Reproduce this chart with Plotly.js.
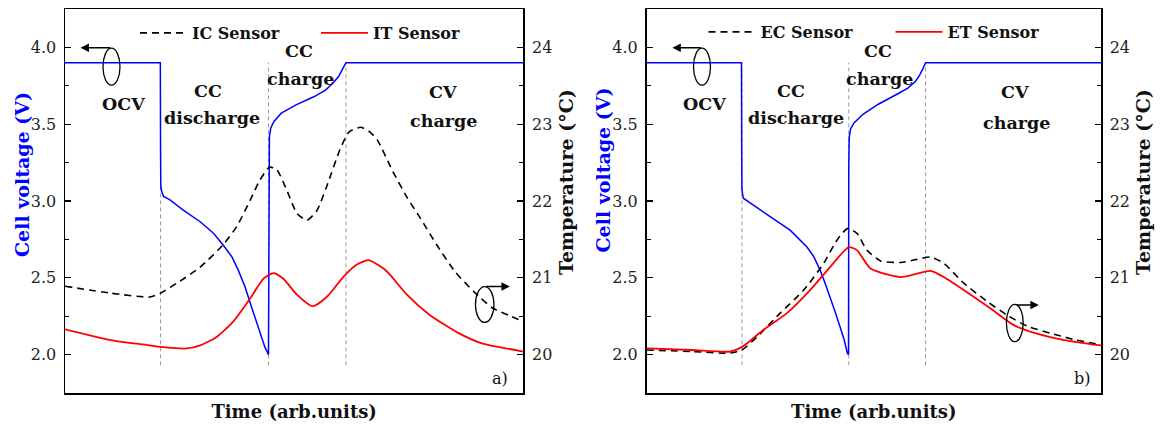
<!DOCTYPE html>
<html><head><meta charset="utf-8">
<script src="https://cdn.plot.ly/plotly-3.0.1.min.js"></script>
<style>html,body{margin:0;padding:0;background:#fff}#chart{width:1164px;height:430px}</style>
</head><body><div id="chart"></div>
<script>
// ---------- data (a) ----------
const timeVoltA = [0, 20.8, 20.85, 20.9, 21.1, 21.5, 22.9, 25.8, 29.5, 32.4, 34.5, 36.4, 37.8, 39.3, 40.7, 42.2, 43.6, 44.4, 44.45, 44.6, 44.9, 45.6, 47.2, 50.4, 54.4, 56.9, 58.5, 59.7, 60.5, 61.3, 100];
const voltA     = [3.9, 3.9, 3.33, 3.1, 3.061, 3.03, 3.007, 2.941, 2.865, 2.79, 2.713, 2.637, 2.55, 2.44, 2.31, 2.18, 2.05, 2.0, 3.2, 3.42, 3.475, 3.518, 3.572, 3.626, 3.68, 3.724, 3.768, 3.81, 3.855, 3.9, 3.9];
const timeIC = [0, 10.0, 18.5, 20.8, 24.4, 29.5, 34.5, 37.5, 40.4, 42.5, 44.6, 46.2, 48.4, 50.6, 52.8, 55.0, 57.1, 60.0, 62.0, 64.5, 66.5, 68.2, 71.4, 74.6, 77.5, 81.1, 85.1, 89.2, 93.2, 97.3, 100];
const tempIC = [20.89, 20.80, 20.75, 20.80, 20.93, 21.14, 21.43, 21.67, 22.01, 22.27, 22.44, 22.41, 22.14, 21.84, 21.75, 21.88, 22.19, 22.67, 22.90, 22.96, 22.90, 22.79, 22.40, 22.05, 21.78, 21.43, 21.08, 20.82, 20.61, 20.50, 20.43];
const timeIT = [0, 10.0, 18.5, 20.9, 26.6, 29.5, 33.1, 36.7, 40.4, 43.3, 45.5, 47.6, 50.6, 54.0, 57.1, 60.7, 63.6, 66.2, 69.5, 70.9, 74.6, 79.5, 85.9, 90.8, 100];
const tempIT = [20.33, 20.19, 20.12, 20.10, 20.08, 20.12, 20.23, 20.43, 20.73, 20.99, 21.06, 20.99, 20.78, 20.63, 20.75, 21.01, 21.17, 21.23, 21.12, 21.04, 20.78, 20.52, 20.28, 20.15, 20.04];
const phaseBoundsA = [20.85, 44.4, 61.3];
// ---------- data (b) ----------
const timeVoltB = [0, 20.9, 20.95, 21.0, 21.3, 22.8, 25.0, 27.2, 31.6, 35.3, 36.8, 38.2, 39.3, 40.4, 41.5, 42.6, 43.5, 44.2, 44.45, 44.5, 44.6, 44.9, 45.7, 47.7, 51.0, 55.1, 57.5, 59.2, 60.1, 60.8, 61.4, 100];
const voltB     = [3.9, 3.9, 3.3, 3.072, 3.018, 2.986, 2.942, 2.898, 2.81, 2.70, 2.638, 2.55, 2.464, 2.377, 2.279, 2.18, 2.095, 2.008, 2.0, 3.2, 3.415, 3.47, 3.51, 3.566, 3.63, 3.695, 3.735, 3.78, 3.82, 3.86, 3.9, 3.9];
const timeEC = [0, 10.0, 18.4, 21.0, 24.3, 29.4, 34.6, 39.0, 41.9, 44.2, 46.3, 48.5, 51.5, 55.9, 59.5, 62.5, 65.4, 69.8, 75.0, 79.7, 83.8, 88.8, 94.5, 100];
const tempEC = [20.06, 20.04, 20.02, 20.06, 20.23, 20.54, 20.84, 21.19, 21.49, 21.64, 21.58, 21.36, 21.22, 21.20, 21.24, 21.27, 21.19, 20.93, 20.69, 20.50, 20.37, 20.28, 20.19, 20.13];
const timeET = [0, 10.0, 18.4, 21.3, 25.7, 30.9, 36.0, 40.4, 44.5, 46.3, 49.3, 55.9, 62.5, 65.4, 69.8, 75.7, 80.6, 85.5, 91.9, 100];
const tempET = [20.08, 20.06, 20.04, 20.11, 20.32, 20.54, 20.84, 21.14, 21.40, 21.36, 21.12, 21.01, 21.09, 21.01, 20.84, 20.60, 20.39, 20.28, 20.19, 20.12];
const phaseBoundsB = [21.0, 44.5, 61.4];
const phaseLineV = [1.93, 3.9];
// ---------- text ----------
const seriesNamesA = ['IC Sensor', 'IT Sensor'];
const seriesNamesB = ['EC Sensor', 'ET Sensor'];
const phaseTexts = ['OCV', 'CC', 'discharge', 'CC', 'charge', 'CV', 'charge'];
const panelTags = ['a)', 'b)'];
const xTitle = 'Time (arb.units)';
const yTitleV = 'Cell voltage (V)';
const yTitleT = 'Temperature (°C)';

// ---------- layout helpers ----------
const W = 1164, H = 430, ML = 65, MR = 63, MT = 9, MB = 37;
const PW = W - ML - MR, PH = H - MT - MB;
const px = x => (x - ML) / PW;
const py = y => (H - MB - y) / PH;
const F = 'DejaVu Serif';
const BLUE = '#0000ff', RED = '#ff0000';

function boundLines(bounds) {
  const x = [], y = [];
  bounds.forEach(b => { x.push(b, b, null); y.push(phaseLineV[0], phaseLineV[1], null); });
  return {x, y};
}
function panel(xa, yv, yt, tv, v, t1x, t1, t2x, t2, bounds, names, leg) {
  const bl = boundLines(bounds);
  return [
    {x: bl.x, y: bl.y, xaxis: xa, yaxis: yv, mode: 'lines', showlegend: false, hoverinfo: 'skip',
     line: {color: '#9a9a9a', width: 1, dash: '4px,3px'}},
    {x: t1x, y: t1, xaxis: xa, yaxis: yt, mode: 'lines', name: names[0], legend: leg,
     line: {color: '#000', width: 1.6, dash: '7px,5px', shape: 'spline', smoothing: 0.6}},
    {x: t2x, y: t2, xaxis: xa, yaxis: yt, mode: 'lines', name: names[1], legend: leg,
     line: {color: RED, width: 1.8, shape: 'spline', smoothing: 0.6}},
    {x: tv, y: v, xaxis: xa, yaxis: yv, mode: 'lines', showlegend: false,
     line: {color: BLUE, width: 1.5}}
  ];
}
const data = [
  ...panel('x', 'y', 'y2', timeVoltA, voltA, timeIC, tempIC, timeIT, tempIT, phaseBoundsA, seriesNamesA, 'legend'),
  ...panel('x2', 'y3', 'y4', timeVoltB, voltB, timeEC, tempEC, timeET, tempET, phaseBoundsB, seriesNamesB, 'legend2')
];

const tickFont = {family: F, size: 16, color: '#222'};
function xAx(domain, anchor) {
  return {domain, anchor, range: [0, 100], showline: true, mirror: true, linecolor: '#000', linewidth: 1.5,
    ticks: '', showticklabels: false, showgrid: false, zeroline: false,
    title: {text: xTitle, font: {family: F, size: 18, weight: 'bold', color: '#111'}, standoff: 12}};
}
function yAx(anchor, range, tick0, dtick, minor, side, overlay, fmt) {
  const a = {anchor, range, side, tickmode: 'linear', tick0, dtick, ticks: 'inside', ticklen: 6, tickwidth: 1.3,
    tickcolor: '#000', tickfont: tickFont, showline: true, linecolor: '#000', linewidth: 1.5,
    showgrid: false, zeroline: false, ticklabelstandoff: 4,
    minor: {ticks: 'inside', ticklen: 4, tickwidth: 1.2, tickcolor: '#000', tick0, dtick: minor, showgrid: false}};
  if (overlay) a.overlaying = overlay;
  if (fmt) a.tickformat = fmt;
  return a;
}
const domA = [0, px(523.3)], domB = [px(646.5), 1];

function txt(text, x, y, opts) {
  return Object.assign({text, xref: 'paper', yref: 'paper', x: px(x), y: py(y), showarrow: false,
    xanchor: 'center', yanchor: 'middle', font: {family: F, size: 17.5, weight: 'bold', color: '#111'}}, opts || {});
}
function arrow(hx, hy, ax) {
  return {text: '', xref: 'paper', yref: 'paper', x: px(hx), y: py(hy), ax, ay: 0, showarrow: true,
    arrowhead: 2, arrowsize: 1.2, arrowwidth: 1.4, arrowcolor: '#000', standoff: 0, startstandoff: 0};
}
function ellipse(cx, cy, w, h) {
  return {type: 'circle', xref: 'paper', yref: 'paper', x0: px(cx - w / 2), x1: px(cx + w / 2),
    y0: py(cy + h / 2), y1: py(cy - h / 2), line: {color: '#000', width: 1.3}};
}
const tagFont = {family: F, size: 16, color: '#111'};
const vTitleFont = {family: F, size: 19, weight: 'bold', color: BLUE};
const tTitleFont = {family: F, size: 19, weight: 'bold', color: '#111'};
const annotations = [
  // panel a
  txt(phaseTexts[0], 123, 104), txt(phaseTexts[1], 208, 91), txt(phaseTexts[2], 212, 118),
  txt(phaseTexts[3], 299, 51), txt(phaseTexts[4], 300, 79), txt(phaseTexts[5], 443, 92), txt(phaseTexts[6], 443, 121),
  txt(panelTags[0], 500, 378, {font: tagFont}),
  txt(yTitleV, 22, 175, {textangle: -90, font: vTitleFont}),
  txt(yTitleT, 566, 182, {textangle: -90, font: tTitleFont}),
  arrow(80.6, 47.7, 31), arrow(509.8, 286.5, -25),
  // panel b
  txt(phaseTexts[0], 704, 104), txt(phaseTexts[1], 791, 91), txt(phaseTexts[2], 796, 118),
  txt(phaseTexts[3], 878, 51), txt(phaseTexts[4], 879, 79), txt(phaseTexts[5], 1015, 92), txt(phaseTexts[6], 1016, 123),
  txt(panelTags[1], 1082, 378, {font: tagFont}),
  txt(yTitleV, 602.5, 170, {textangle: -90, font: vTitleFont}),
  txt(yTitleT, 1143, 182, {textangle: -90, font: tTitleFont}),
  arrow(672.4, 47.7, 30), arrow(1038.8, 305, -23.5)
];
const shapes = [ellipse(111.5, 66.7, 17, 37), ellipse(484.7, 304.5, 18.5, 35.6),
                ellipse(702, 66.7, 17, 37), ellipse(1014.8, 323, 16.8, 37.4)];
const legFont = {family: F, size: 16, weight: 'bold', color: '#111'};
const layout = {
  width: W, height: H, margin: {l: ML, r: MR, t: MT, b: MB}, paper_bgcolor: '#fff', plot_bgcolor: '#fff',
  font: {family: F, color: '#111'},
  xaxis: xAx(domA, 'y'), xaxis2: xAx(domB, 'y3'),
  yaxis: yAx('x', [1.75, 4.25], 2, 0.5, 0.25, 'left', null, '.1f'),
  yaxis2: yAx('x', [19.5, 24.5], 20, 1, 0.5, 'right', 'y'),
  yaxis3: yAx('x2', [1.75, 4.25], 2, 0.5, 0.25, 'left', null, '.1f'),
  yaxis4: yAx('x2', [19.5, 24.5], 20, 1, 0.5, 'right', 'y3'),
  legend: {orientation: 'h', x: px(135), y: py(33), xanchor: 'left', yanchor: 'middle', bgcolor: 'rgba(0,0,0,0)',
    font: legFont, itemwidth: 47, entrywidth: 119, traceorder: 'normal'},
  legend2: {orientation: 'h', x: px(703.5), y: py(32), xanchor: 'left', yanchor: 'middle', bgcolor: 'rgba(0,0,0,0)',
    font: legFont, itemwidth: 47, entrywidth: 125, traceorder: 'normal'},
  annotations, shapes, showlegend: true
};
Plotly.newPlot('chart', data, layout, {staticPlot: true, displayModeBar: false});
</script></body></html>
